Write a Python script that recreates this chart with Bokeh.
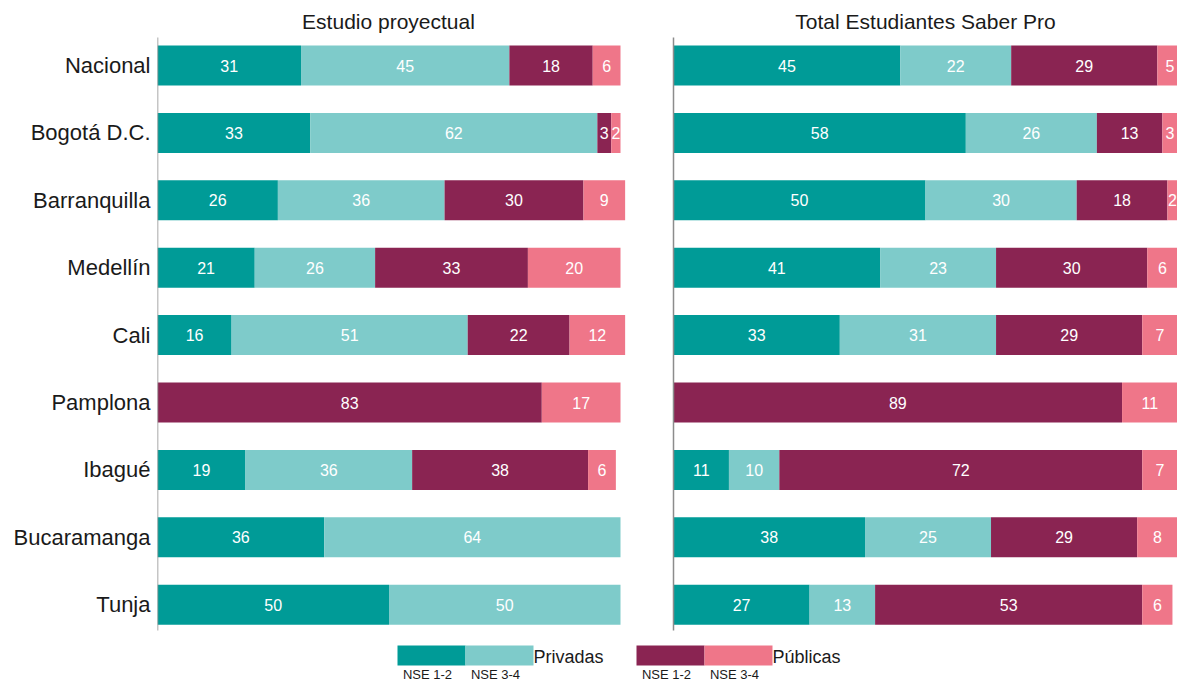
from bokeh.plotting import figure
from bokeh.models import Range1d, FixedTicker, ColumnDataSource
from bokeh.core.properties import value
from bokeh.embed import file_html
from bokeh.resources import INLINE

cities = ["Nacional", "Bogotá D.C.", "Barranquilla", "Medellín", "Cali",
          "Pamplona", "Ibagué", "Bucaramanga", "Tunja"]

# Estudio proyectual
ep_priv_12 = [31, 33, 26, 21, 16, 0, 19, 36, 50]
ep_priv_34 = [45, 62, 36, 26, 51, 0, 36, 64, 50]
ep_pub_12 = [18, 3, 30, 33, 22, 83, 38, 0, 0]
ep_pub_34 = [6, 2, 9, 20, 12, 17, 6, 0, 0]

# Total Estudiantes Saber Pro
sp_priv_12 = [45, 58, 50, 41, 33, 0, 11, 38, 27]
sp_priv_34 = [22, 26, 30, 23, 31, 0, 10, 25, 13]
sp_pub_12 = [29, 13, 18, 30, 29, 89, 72, 29, 53]
sp_pub_34 = [5, 3, 2, 6, 7, 11, 7, 8, 6]

panel_titles = ["Estudio proyectual", "Total Estudiantes Saber Pro"]
legend_groups = ["Privadas", "Públicas"]
legend_sub = ["NSE 1-2", "NSE 3-4"]

colors = ["#009B97", "#7ECBCA", "#8A2452", "#EF7689"]
FONT = "Liberation Sans"

W, H = 1177, 685
BL = 157  # left border
frame_w = W - BL
ROW0, ROWSTEP = 65.0, 67.4


def yv(py):
    return (py - ROW0) / ROWSTEP


left_px_per = 4.63
right_px_per = 5.04
left_end = frame_w / left_px_per
right_start = -(673 - 157) / right_px_per
right_end = right_start + frame_w / right_px_per

p = figure(width=W, height=H, output_backend="svg", toolbar_location=None,
           x_range=Range1d(0, left_end), y_range=Range1d(yv(H), yv(0)),
           min_border_left=BL, min_border_right=0, min_border_top=0,
           min_border_bottom=0)
p.extra_x_ranges = {"right": Range1d(right_start, right_end)}
p.xaxis.visible = False
p.xgrid.visible = False
p.ygrid.visible = False
p.outline_line_color = None
p.yaxis.axis_line_color = None
p.yaxis.major_tick_line_color = None
p.yaxis.minor_tick_line_color = None
p.yaxis.major_tick_out = 0
p.yaxis.major_tick_in = 0
p.yaxis.ticker = FixedTicker(ticks=list(range(len(cities))))
p.yaxis.major_label_overrides = {i: c for i, c in enumerate(cities)}
p.yaxis.major_label_text_font = FONT
p.yaxis.major_label_text_font_size = "22px"
p.yaxis.major_label_text_color = "#1a1a1a"
p.yaxis.major_label_standoff = 7

bar_h = 40 / ROWSTEP


def draw_panel(series, range_name):
    lefts = [0] * len(cities)
    kw = {} if range_name is None else {"x_range_name": range_name}
    for s, col in zip(series, colors):
        rights = [a + b for a, b in zip(lefts, s)]
        src = ColumnDataSource(dict(
            y=list(range(len(cities))), left=lefts, right=rights,
            mid=[(a + b) / 2 for a, b in zip(lefts, rights)],
            lab=[str(v) if v > 0 else "" for v in s]))
        p.hbar(y="y", left="left", right="right", height=bar_h, source=src,
               fill_color=col, line_color=None, **kw)
        p.text(x="mid", y="y", text="lab", source=src, text_color="white",
               text_font=value(FONT), text_font_size="16px",
               text_align="center", text_baseline="middle", **kw)
        lefts = rights


draw_panel([ep_priv_12, ep_priv_34, ep_pub_12, ep_pub_34], None)
draw_panel([sp_priv_12, sp_priv_34, sp_pub_12, sp_pub_34], "right")

# vertical axis lines
p.segment(x0=[0], x1=[0], y0=[yv(37)], y1=[yv(630)], line_color="#8c8c8c",
          line_width=1.5)
p.segment(x0=[0], x1=[0], y0=[yv(37)], y1=[yv(630)], line_color="#8c8c8c",
          line_width=1.5, x_range_name="right")


def px(x):
    return (x - 157) / left_px_per


# panel titles
p.text(x=[px(388)], y=[yv(21)], text=[panel_titles[0]],
       text_font=value(FONT), text_font_size="21px", text_color="#1a1a1a",
       text_align="center", text_baseline="middle")
p.text(x=[px(925)], y=[yv(21)], text=[panel_titles[1]],
       text_font=value(FONT), text_font_size="21px", text_color="#1a1a1a",
       text_align="center", text_baseline="middle")

# legend
box_y0, box_y1 = yv(645), yv(665)
legend_starts = [397, 636]
for g, (start, cpair) in enumerate(zip(legend_starts, [colors[:2], colors[2:]])):
    for k in range(2):
        x0 = start + 68 * k
        p.quad(left=[px(x0)], right=[px(x0 + 68)], bottom=[box_y1], top=[box_y0],
               fill_color=cpair[k], line_color=None)
        p.text(x=[px(x0 + 30)], y=[yv(674)], text=[legend_sub[k]],
               text_font=value(FONT), text_font_size="13px",
               text_color="#1a1a1a", text_align="center",
               text_baseline="middle")
    p.text(x=[px(start + 136)], y=[yv(656)], text=[legend_groups[g]],
           text_font=value(FONT), text_font_size="18px", text_color="#1a1a1a",
           text_align="left", text_baseline="middle")

open("out.html", "w").write(file_html(p, INLINE))
